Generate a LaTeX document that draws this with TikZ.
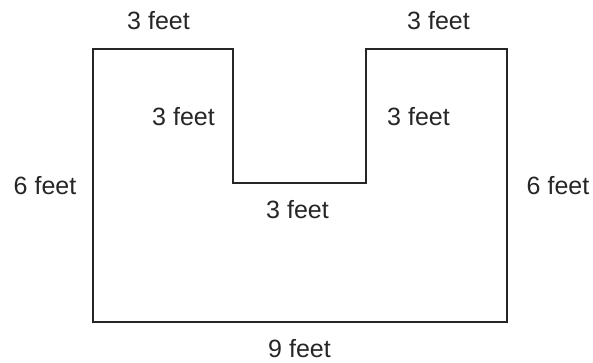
\documentclass[tikz,border=0pt]{standalone}
\usepackage{fontspec}
\setmainfont{Liberation Sans}
\begin{document}
\begin{tikzpicture}[x=1pt,y=-1pt,
  lbl/.style={font=\fontsize{25}{30}\selectfont, text=black!85, inner sep=0pt, anchor=center},
  outline/.style={draw=black!85, line width=2pt, line join=miter}]
\useasboundingbox (0,0) rectangle (593,362);
\clip (0,0) rectangle (593,362);
\coordinate (p1) at (93,49);
\coordinate (p2) at (233,49);
\coordinate (p3) at (233,183);
\coordinate (p4) at (366,183);
\coordinate (p5) at (366,49);
\coordinate (p6) at (507,49);
\coordinate (p7) at (507,322);
\coordinate (p8) at (93,322);
\draw[outline] (p1) -- (p2) -- (p3) -- (p4) -- (p5) -- (p6) -- (p7) -- (p8) -- cycle;
\node[lbl] (tl) at (158.5,21) {3 feet};
\node[lbl] (tr) at (438.5,21) {3 feet};
\node[lbl] (il) at (183.5,117) {3 feet};
\node[lbl] (ir) at (418.5,117) {3 feet};
\node[lbl] (mid) at (297.5,210) {3 feet};
\node[lbl] (lf) at (45,186) {6 feet};
\node[lbl] (rf) at (558,186) {6 feet};
\node[lbl] (bt) at (299.5,349) {9 feet};
\end{tikzpicture}
\end{document}
